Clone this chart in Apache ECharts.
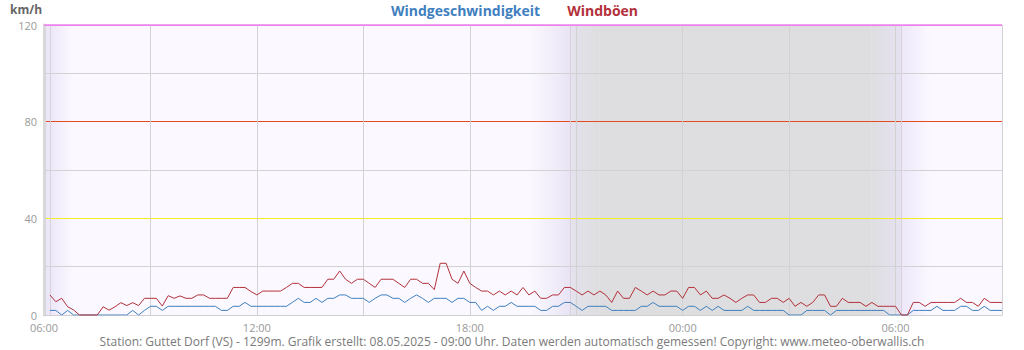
<!DOCTYPE html>
<html>
<head>
<meta charset="utf-8">
<script src="https://cdn.jsdelivr.net/npm/echarts@6/dist/echarts.min.js"></script>
<style>
html,body{margin:0;padding:0;background:#fff;}
#chart{width:1024px;height:350px;}
</style>
</head>
<body>
<div id="chart"></div>
<script>
// ---- data (10-minute values, 06:10 day 1 -> 09:00 day 2) ----
const yTickLabels = [0, 40, 80, 120];
const seriesNames = ['Windgeschwindigkeit', 'Windböen'];
const unitLabel = 'km/h';
const footerText = 'Station: Guttet Dorf (VS) - 1299m. Grafik erstellt: 08.05.2025 - 09:00 Uhr. Daten werden automatisch gemessen! Copyright: www.meteo-oberwallis.ch';

// time categories: 06:00 .. 09:00 next day, every 10 minutes
const categories = [];
for (let i = 0; i <= 162; i++) {
  const m = (6 * 60 + i * 10) % 1440;
  categories.push(String(Math.floor(m / 60)).padStart(2, '0') + ':' + String(m % 60).padStart(2, '0'));
}

const windSpeed = [
  // 06:10 - 15:00
  1.9,1.9,0,1.9,0, 0,0,0,0,0,0, 0,0,0,1.9,0,1.9, 3.6,3.6,1.9,3.6,3.6,3.6,
  3.6,3.6,3.6,3.6,3.6,3.6, 1.9,1.9,3.6,3.6,5.2,3.6, 3.6,3.6,3.6,3.6,3.6,3.6,
  5.2,6.9,5.2,5.2,6.9,5.2, 6.9,6.9,8.3,8.3,6.9,6.9, 6.9,
  // 15:10 - 00:00
  5.2,6.9,8.3,8.3,6.9, 6.9,5.2,6.9,8.3,6.9,5.2, 6.9,6.9,6.9,5.2,6.9,6.9,
  5.2,5.2,1.9,3.6,1.9,3.6, 3.6,5.2,3.6,3.6,3.6,3.6, 1.9,1.9,3.6,3.6,5.2,5.2,
  3.6,1.9,3.6,3.6,3.6,3.6, 1.9,1.9,1.9,1.9,1.9,3.6, 3.6,5.2,3.6,3.6,3.6,3.6, 1.9,
  // 00:10 - 09:00
  3.6,3.6,1.9,3.6,1.9, 3.6,1.9,1.9,1.9,1.9,3.6, 1.9,1.9,1.9,1.9,1.9,1.9,
  0,0,0,1.9,1.9,1.9, 1.9,0,1.9,1.9,1.9,1.9, 1.9,1.9,1.9,1.9,1.9,0,
  0,0,0,1.9,1.9,1.9, 1.9,3.6,1.9,1.9,1.9,3.6, 3.6,1.9,1.9,3.6,1.9,1.9, 1.9
];

const windGust = [
  // 06:10 - 15:00
  8.3,5.5,6.9,3.4,2.1, 0,0,0,0,3.4,2.0, 3.4,5.1,3.9,5.1,3.9,6.9, 6.9,6.9,3.7,8.0,6.9,7.9,
  6.9,6.9,8.3,8.3,6.9,6.9, 6.9,6.9,11.4,11.4,11.4,9.7, 8.3,9.9,9.9,9.9,9.9,11.4,
  13.1,13.1,11.4,11.4,11.4,11.4, 14.8,14.8,18.2,14.8,13.1,14.8, 14.8,
  // 15:10 - 00:00
  13.1,11.4,14.8,14.8,14.8, 13.1,11.4,14.8,14.8,13.1,13.1, 10.5,21.4,21.4,14.8,13.1,18.2,
  13.1,11.4,9.9,9.9,8.3,9.9, 8.3,9.9,8.3,11.4,8.3,9.9, 6.9,6.9,8.3,8.3,11.4,11.4,
  9.9,8.3,9.9,8.3,9.9,8.3, 5.2,9.9,6.9,6.9,11.4,9.9, 8.3,9.9,8.3,8.3,9.9,9.9, 6.9,
  // 00:10 - 09:00
  11.4,11.4,8.3,9.9,6.9, 6.9,8.3,6.9,5.2,6.9,8.3, 8.3,5.2,5.2,6.9,6.9,5.2,
  6.9,3.6,5.2,3.6,5.2,8.3, 8.3,3.6,3.6,6.9,5.2,5.2, 5.2,3.6,5.2,3.6,3.6,3.6,
  3.6,0,0,5.2,5.2,3.6, 5.2,5.2,5.2,5.2,5.2,6.9, 5.2,5.2,3.6,6.9,5.2,5.2, 5.2
];

// coloured reference line at the top of the scale (km/h)
const topLine = { value: 120, color: '#ee80ee' };

// twilight / night bands (category index, 10-min steps from 06:00)
const dayBg = '#fbf9ff';
const nightBg = '#dedee0';
function grad(c1, c2) {
  return { type: 'linear', x: 0, y: 0, x2: 1, y2: 0, colorStops: [{ offset: 0, color: c1 }, { offset: 1, color: c2 }] };
}
const bands = [
  [0, 5, grad('#e9e3f7', dayBg)],
  [82, 88.6, grad(dayBg, '#e9e4f5')],
  [88.6, 90, grad('#e6e3f0', '#e2e1ea')],
  [90, 94, grad('#e2e1ea', nightBg)],
  [94, 140, nightBg],
  [140, 144.5, grad(nightBg, '#e6e2f2')],
  [144.5, 150, grad('#ede7fa', dayBg)]
];
const sunMarks = [0.7, 88.6, 144.5];

const chart = echarts.init(document.getElementById('chart'), null, { renderer: 'svg' });
const fontFamily = '"Open Sans", "Noto Sans", sans-serif';

chart.setOption({
  animation: false,
  textStyle: { fontFamily },
  title: {
    text: unitLabel, left: 10, top: 3, padding: 0,
    textStyle: { fontSize: 12, fontWeight: 'bold', color: '#666', lineHeight: 12, fontFamily }
  },
  legend: {
    top: 2, left: 'center', icon: 'none', itemWidth: 0, itemGap: 22, padding: 0,
    textStyle: { fontSize: 14, fontWeight: 'bold', lineHeight: 16, fontFamily },
    data: [
      { name: seriesNames[0], textStyle: { color: '#3f7fbf' } },
      { name: seriesNames[1], textStyle: { color: '#b3313a' } }
    ],
    selectedMode: false
  },
  grid: {
    left: 44, right: 22, top: 25, bottom: 35,
    show: true, backgroundColor: dayBg, borderWidth: 0
  },
  xAxis: {
    type: 'category', data: categories, boundaryGap: false, z: 2,
    axisLine: { show: true, lineStyle: { color: '#cfcfcf' } },
    axisTick: { show: false },
    axisLabel: { interval: (i) => i % 36 === 0, color: '#999', fontSize: 11, lineHeight: 10, margin: 7, fontFamily },
    splitLine: { show: true, interval: (i) => i % 18 === 0, lineStyle: { color: '#d2d2d2', width: 1 } }
  },
  yAxis: {
    type: 'value', min: 0, max: 120, interval: 20, z: 2,
    axisLine: { show: true, lineStyle: { color: '#d8d8d8', width: 3 } },
    axisTick: { show: false },
    axisLabel: {
      color: '#999', fontSize: 11, lineHeight: 10, margin: 7, fontFamily,
      formatter: (v) => (yTickLabels.indexOf(v) >= 0 ? String(v) : '')
    },
    splitLine: {
      show: true,
      lineStyle: { color: ['#d2d2d2', '#d2d2d2', '#f3ee22', '#d2d2d2', '#e64b1f', '#d2d2d2', '#ee80ee'], width: 1 }
    }
  },
  series: [
    {
      name: seriesNames[0], type: 'line', data: [null].concat(windSpeed),
      showSymbol: false, symbol: 'none', z: 3,
      lineStyle: { color: '#3f7fbf', width: 1 }, itemStyle: { color: '#3f7fbf' },
      markArea: {
        silent: true, z: 1,
        data: bands.map(b => [{ xAxis: b[0], itemStyle: { color: b[2] } }, { xAxis: b[1] }])
      },
      markLine: {
        silent: true, symbol: 'none', z: 2, label: { show: false },
        lineStyle: { color: '#d9d0d9', type: 'solid', width: 1 },
        data: sunMarks.map(x => ({ xAxis: x }))
      }
    },
    {
      name: seriesNames[1], type: 'line', data: [null].concat(windGust),
      showSymbol: false, symbol: 'none', z: 3, clip: false,
      lineStyle: { color: '#b3313a', width: 1 }, itemStyle: { color: '#b3313a' },
      markLine: {
        silent: true, symbol: 'none', z: 4, label: { show: false },
        data: [{ yAxis: topLine.value, lineStyle: { color: topLine.color, type: 'solid', width: 1.5 } }]
      }
    }
  ],
  graphic: [
    {
      type: 'text', x: 512, y: 341,
      style: { text: footerText, fill: '#7a7a7a', font: '12px ' + fontFamily, lineHeight: 12, textAlign: 'center', textVerticalAlign: 'middle' }
    }
  ]
});
</script>
</body>
</html>
